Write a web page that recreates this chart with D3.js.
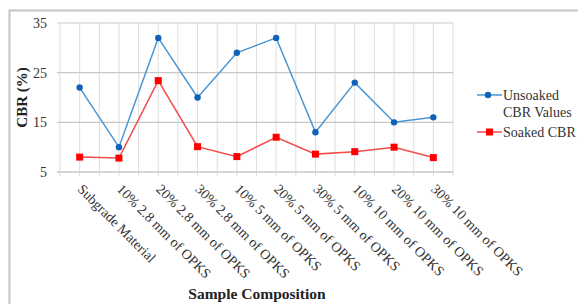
<!DOCTYPE html>
<html>
<head>
<meta charset="utf-8">
<script src="https://cdn.jsdelivr.net/npm/d3@7"></script>
<style>
  body { margin: 0; background: #fff; }
  svg { display: block; }
  svg text { font-family: "Liberation Serif", "DejaVu Serif", serif; }
</style>
</head>
<body>
<div id="chart"></div>
<script>
var categories = ["Subgrade Material", "10% 2.8 mm of OPKS", "20% 2.8 mm of OPKS", "30% 2.8 mm of OPKS",
    "10% 5 mm of OPKS", "20% 5 mm of OPKS", "30% 5 mm of OPKS", "10% 10 mm of OPKS",
    "20% 10 mm of OPKS", "30% 10 mm of OPKS"];
var unsoaked = [22, 10, 32, 20, 29, 32, 13, 23, 15, 16];
var soaked = [8, 7.8, 23.4, 10.1, 8.1, 12, 8.6, 9.1, 10, 7.9];
var yTicks = [5, 15, 25, 35];

var width = 578, height = 304;
var margin = { top: 23, right: 125, bottom: 132, left: 60 };

var svg = d3.select("#chart")
    .append("svg")
    .attr("width", width)
    .attr("height", height);

// outer frame
svg.append("rect")
    .attr("x", 9.5).attr("y", 10.5)
    .attr("width", 600).attr("height", 320)
    .attr("fill", "none")
    .attr("stroke", "#c4c4c4")
    .attr("stroke-width", 2);

var x = d3.scaleBand()
    .domain(categories)
    .range([margin.left, width - margin.right]);

var y = d3.scaleLinear()
    .domain([5, 35])
    .range([height - margin.bottom, margin.top]);

var g = svg.append("g");

// vertical grid at centers and boundaries
var halfSteps = d3.range(0, categories.length * 2 + 1);
g.append("g")
    .selectAll("line")
    .data(halfSteps)
    .join("line")
    .attr("x1", d => margin.left + d * x.bandwidth() / 2)
    .attr("x2", d => margin.left + d * x.bandwidth() / 2)
    .attr("y1", y(35))
    .attr("y2", y(5) + 4)
    .attr("stroke", "#dedede")
    .attr("stroke-width", 1);

// horizontal grid
g.append("g")
    .selectAll("line")
    .data(yTicks)
    .join("line")
    .attr("x1", margin.left - 3)
    .attr("x2", width - margin.right)
    .attr("y1", d => y(d))
    .attr("y2", d => y(d))
    .attr("stroke", d => d === 35 ? "#dcdcdc" : "#c8c8c8")
    .attr("stroke-width", 1.3);

// y axis labels
svg.append("g")
    .attr("transform", "translate(" + (margin.left - 13) + ",0)")
    .call(d3.axisLeft(y).tickValues(yTicks).tickSize(0).tickPadding(0))
    .call(g => g.select(".domain").remove())
    .call(g => g.selectAll("text")
        .style("font-family", "Liberation Serif")
        .style("font-size", "14px")
        .attr("fill", "#333"));

// x axis labels
svg.append("g")
    .attr("transform", "translate(0," + y(5) + ")")
    .call(d3.axisBottom(x).tickSize(0).tickPadding(0))
    .call(g => g.select(".domain").remove())
    .call(g => g.selectAll("text")
        .style("font-family", "Liberation Serif")
        .style("font-size", "14px")
        .attr("fill", "#333")
        .attr("text-anchor", "start")
        .attr("dy", 0)
        .attr("y", 0)
        .attr("transform", "translate(-3,18) rotate(45)"));

// axis titles
svg.append("text")
    .attr("transform", "translate(22," + ((y(5) + y(35)) / 2) + ") rotate(-90)")
    .attr("text-anchor", "middle")
    .attr("dy", "0.35em")
    .attr("font-weight", "bold")
    .style("font-size", "15px")
    .attr("fill", "#222")
    .text("CBR (%)");

svg.append("text")
    .attr("x", 257)
    .attr("y", 299)
    .attr("text-anchor", "middle")
    .attr("font-weight", "bold")
    .style("font-size", "15.5px")
    .attr("fill", "#222")
    .text("Sample Composition");

var cx = d => x(d) + x.bandwidth() / 2;

var line = d3.line()
    .x((d, i) => cx(categories[i]))
    .y(d => y(d));

// unsoaked
svg.append("path")
    .datum(unsoaked)
    .attr("d", line)
    .attr("fill", "none")
    .attr("stroke", "#4a97d4")
    .attr("stroke-width", 1.5);

svg.append("g")
    .selectAll("circle")
    .data(unsoaked)
    .join("circle")
    .attr("cx", (d, i) => cx(categories[i]))
    .attr("cy", d => y(d))
    .attr("r", 3.2)
    .attr("fill", "#0e62b8");

// soaked
svg.append("path")
    .datum(soaked)
    .attr("d", line)
    .attr("fill", "none")
    .attr("stroke", "#f44b4b")
    .attr("stroke-width", 1.5);

svg.append("g")
    .selectAll("rect")
    .data(soaked)
    .join("rect")
    .attr("x", (d, i) => cx(categories[i]) - 3.5)
    .attr("y", d => y(d) - 3.5)
    .attr("width", 7)
    .attr("height", 7)
    .attr("fill", "#f00");

// legend
var legend = svg.append("g").attr("transform", "translate(477,95)");

legend.append("line")
    .attr("x1", 0).attr("x2", 25).attr("y1", 0).attr("y2", 0)
    .attr("stroke", "#4a97d4").attr("stroke-width", 1.5);
legend.append("circle")
    .attr("cx", 11).attr("cy", 0).attr("r", 3.2)
    .attr("fill", "#0e62b8");
legend.append("text")
    .attr("x", 26).attr("y", 0).attr("dy", "0.35em")
    .style("font-size", "14px").attr("fill", "#333")
    .text("Unsoaked");
legend.append("text")
    .attr("x", 26).attr("y", 17).attr("dy", "0.35em")
    .style("font-size", "14px").attr("fill", "#333")
    .text("CBR Values");

legend.append("line")
    .attr("x1", 0).attr("x2", 25).attr("y1", 37).attr("y2", 37)
    .attr("stroke", "#f44b4b").attr("stroke-width", 1.5);
legend.append("rect")
    .attr("x", 9).attr("y", 33.5).attr("width", 7).attr("height", 7)
    .attr("fill", "#f00");
legend.append("text")
    .attr("x", 26).attr("y", 37).attr("dy", "0.35em")
    .style("font-size", "14px").attr("fill", "#333")
    .text("Soaked CBR");
</script>
</body>
</html>
